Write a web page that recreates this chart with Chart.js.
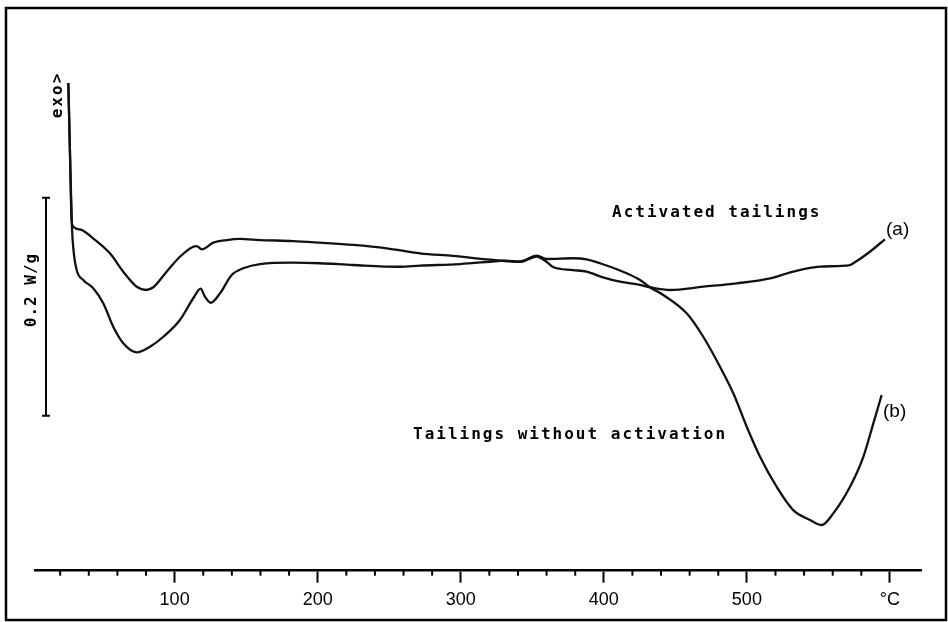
<!DOCTYPE html>
<html><head><meta charset="utf-8">
<script src="https://cdn.jsdelivr.net/npm/chart.js@4"></script>
<style>html,body{margin:0;padding:0;background:#fff;}canvas{display:block;}</style>
</head><body>
<canvas id="c" width="948" height="622"></canvas>
<script>
// Temperature (°C) and relative heat flow (mW/g, exo up, arbitrary zero)
const tempA = [25.7,26.8,28.0,28.9,30.3,36.1,43.1,54.8,64.1,73.5,80.0,85.1,94.4,103.7,113.0,115.4,118.9,127.0,136.4,145.7,159.7,182.7,201.6,224.7,248.2,271.5,294.6,318.1,330.9,341.4,353.1,360.1,364.5,378.4,388.0,399.4,411.3,425.3,432.3,446.3,469.5,492.9,516.2,532.4,551.1,572.1,574.4,586.0,596.5];
const heatA = [162.4,100.9,36.7,31.2,29.4,26.9,19.9,6.1,-10.7,-24.5,-27.5,-25.0,-10.7,3.0,12.2,12.8,9.8,15.9,18.3,19.3,18.3,17.4,15.9,13.8,10.7,6.1,3.7,0.6,-0.9,-1.8,3.2,-1.8,-6.4,-9.2,-10.7,-15.9,-19.9,-22.9,-25.0,-27.5,-24.5,-21.4,-16.8,-10.7,-6.1,-4.6,-3.0,7.6,19.0];
const tempB = [25.7,26.8,28.2,29.3,31.5,36.1,43.1,50.1,57.1,64.1,73.5,82.8,92.1,103.7,113.0,118.2,121.2,125.2,131.7,139.9,148.0,159.7,182.7,201.6,224.7,257.5,271.5,299.5,320.4,330.9,341.4,353.1,360.1,378.7,388.0,397.3,411.3,416.0,425.3,432.3,441.6,457.9,469.5,481.2,490.5,499.9,509.2,520.8,532.4,544.2,552.3,560.4,572.1,581.4,588.4,594.2];
const heatB = [162.4,100.9,31.2,9.2,-9.2,-18.3,-26.0,-39.7,-61.2,-76.4,-84.7,-79.5,-70.4,-55.0,-35.1,-26.3,-33.7,-39.2,-30.6,-13.8,-7.6,-3.7,-2.5,-3.0,-4.6,-6.2,-5.2,-3.7,-1.6,-0.5,-1.4,3.9,0.9,1.6,0.6,-3.0,-9.6,-12.2,-18.3,-25.0,-32.1,-48.9,-70.4,-97.9,-122.3,-152.9,-180.5,-208.0,-229.4,-238.5,-243.1,-232.4,-208.0,-180.5,-149.8,-123.9];
const majorTicks = [100,200,300,400,500,600];
const tickLabels = ['100','200','300','400','500','°C'];
const minorTicks = [20,40,60,80,120,140,160,180,220,240,260,280,320,340,360,380,420,440,460,480,520,540,560,580];
const scaleBar = [57.2, -142.8]; // 0.2 W/g = 200 mW/g
const seriesNames = ['Activated tailings','Tailings without activation'];
const seriesTags = ['(a)','(b)'];

const decor = {
  id:'decor',
  beforeDraw(chart){const c=chart.ctx;c.save();c.fillStyle='#fff';c.fillRect(0,0,chart.width,chart.height);c.restore();},
  afterDraw(chart){
    const c=chart.ctx, xs=chart.scales.x, ys=chart.scales.y, b=chart.chartArea.bottom;
    c.save();
    c.strokeStyle='#000'; c.fillStyle='#000'; c.lineWidth=2;
    minorTicks.forEach(v=>{const p=xs.getPixelForValue(v);c.beginPath();c.moveTo(p,b);c.lineTo(p,b+5);c.stroke();});
    c.lineWidth=2.5; c.strokeRect(6,8,940,612);
    // scale bar
    const y1=ys.getPixelForValue(scaleBar[0]), y2=ys.getPixelForValue(scaleBar[1]);
    c.lineWidth=2;
    c.beginPath();c.moveTo(46,y1);c.lineTo(46,y2);c.moveTo(42,y1);c.lineTo(50,y1);c.moveTo(42,y2);c.lineTo(50,y2);c.stroke();
    const mono='bold 16px "DejaVu Sans Mono"';
    c.font=mono; c.letterSpacing='1px'; c.textAlign='center'; c.textBaseline='middle';
    c.save(); c.translate(32,290); c.rotate(-Math.PI/2); c.fillText('0.2 W/g',0,0); c.restore();
    c.letterSpacing='2px';
    c.save(); c.translate(58,95); c.rotate(-Math.PI/2); c.fillText('exo>',0,0); c.restore();
    c.textAlign='left'; c.textBaseline='alphabetic';
    c.fillText(seriesNames[0],612,217);
    c.fillText(seriesNames[1],413,439);
    c.letterSpacing='0px';
    c.font='19px "Liberation Sans"'; c.textBaseline='middle';
    c.fillText(seriesTags[0],886,230);
    c.fillText(seriesTags[1],883,412);
    c.restore();
  }
};

new Chart(document.getElementById('c'),{
  type:'line',
  data:{datasets:[
    {label:seriesNames[0],data:tempA.map((t,i)=>({x:t,y:heatA[i]})),borderColor:'#111',borderWidth:2.3,pointRadius:0,cubicInterpolationMode:'monotone',fill:false},
    {label:seriesNames[1],data:tempB.map((t,i)=>({x:t,y:heatB[i]})),borderColor:'#111',borderWidth:2.3,pointRadius:0,cubicInterpolationMode:'monotone',fill:false}
  ]},
  options:{
    responsive:false,animation:false,devicePixelRatio:1,
    layout:{padding:{left:35,right:26.3,top:40,bottom:0}},
    plugins:{legend:{display:false},tooltip:{enabled:false}},
    scales:{
      x:{type:'linear',min:2.4,max:622.2,position:'bottom',
        afterBuildTicks:s=>{s.ticks=majorTicks.map(v=>({value:v}));},
        afterFit:s=>{s.height=51.3;},
        border:{display:true,color:'#000',width:2.5},
        grid:{display:true,drawOnChartArea:false,drawTicks:true,tickLength:12,tickWidth:2,tickColor:'#000'},
        ticks:{padding:7,color:'#000',font:{family:'Liberation Sans',size:18},maxRotation:0,autoSkip:false,callback:(v,i)=>tickLabels[i]}
      },
      y:{type:'linear',display:false,min:-285,max:201.8}
    }
  },
  plugins:[decor]
});
</script>
</body></html>
